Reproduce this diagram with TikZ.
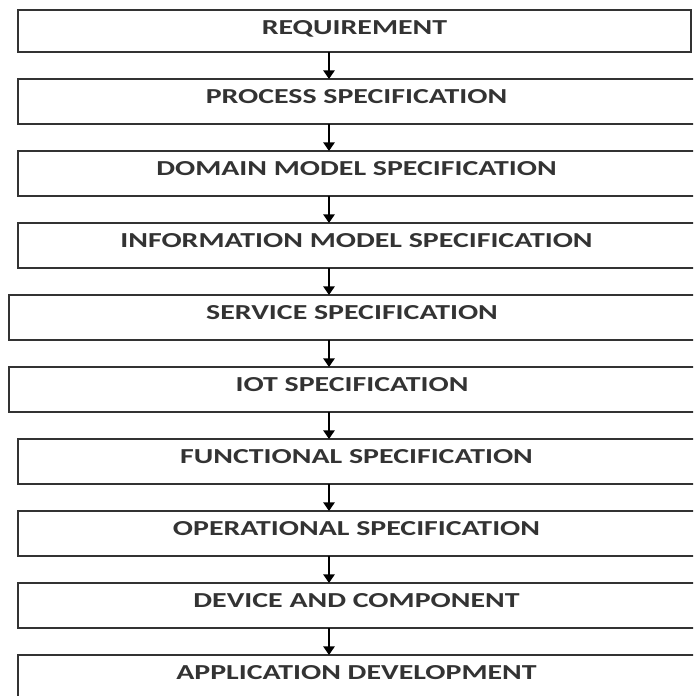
\documentclass[tikz,border=0pt]{standalone}
\usepackage{fontspec}
\setmainfont[FakeStretch=1.4]{Carlito}
\usetikzlibrary{positioning}
\usetikzlibrary{arrows.meta}
\tikzset{
    specbox/.style = {rectangle, line width=1.3pt, draw=black!80, anchor=north west, inner xsep=0pt, inner ysep=0pt, outer sep=0pt, minimum width=507.75pt, text height=18pt, text depth=15.75pt, font=\fontsize{16}{19}\selectfont\bfseries, text=black!80},
    specboxw/.style = {specbox, minimum width=514.5pt}, % shifted left
    edgea/.style = {-{Triangle[width=8.5pt,length=6.5pt]}, line width=1.3pt, black}
}

\begin{document}
\begin{tikzpicture}[node distance=20.25pt]
  \clip (0,0) rectangle (519.75pt,-522pt);
  \coordinate (ax) at (246.75pt,0);
  \node[specbox, minimum width=504.75pt, text depth=13.5pt] (req) at (13.5pt,-7.5pt) {REQUIREMENT};
  \node[specbox, below=of req.south west, anchor=north west] (proc) {PROCESS SPECIFICATION};
  \node[specbox, below=of proc.south west, anchor=north west] (dom) {DOMAIN MODEL SPECIFICATION};
  \node[specbox, below=of dom.south west, anchor=north west] (info) {INFORMATION MODEL SPECIFICATION};
  \node[specboxw, below=of info.south west, anchor=north west, xshift=-6.75pt] (serv) {SERVICE SPECIFICATION};
  \node[specboxw, below=of serv.south west, anchor=north west] (iot) {IOT SPECIFICATION};
  \node[specbox, below=of iot.south west, anchor=north west, xshift=6.75pt] (func) {FUNCTIONAL SPECIFICATION};
  \node[specbox, below=of func.south west, anchor=north west] (oper) {OPERATIONAL SPECIFICATION};
  \node[specbox, below=of oper.south west, anchor=north west] (dev) {DEVICE AND COMPONENT};
  \node[specbox, below=of dev.south west, anchor=north west] (app) {APPLICATION DEVELOPMENT};

  \draw[edgea] (req.south -| ax) -- (proc.north -| ax);
  \draw[edgea] (proc.south -| ax) -- (dom.north -| ax);
  \draw[edgea] (dom.south -| ax) -- (info.north -| ax);
  \draw[edgea] (info.south -| ax) -- (serv.north -| ax);
  \draw[edgea] (serv.south -| ax) -- (iot.north -| ax);
  \draw[edgea] (iot.south -| ax) -- (func.north -| ax);
  \draw[edgea] (func.south -| ax) -- (oper.north -| ax);
  \draw[edgea] (oper.south -| ax) -- (dev.north -| ax);
  \draw[edgea] (dev.south -| ax) -- (app.north -| ax);
\end{tikzpicture}
\end{document}
